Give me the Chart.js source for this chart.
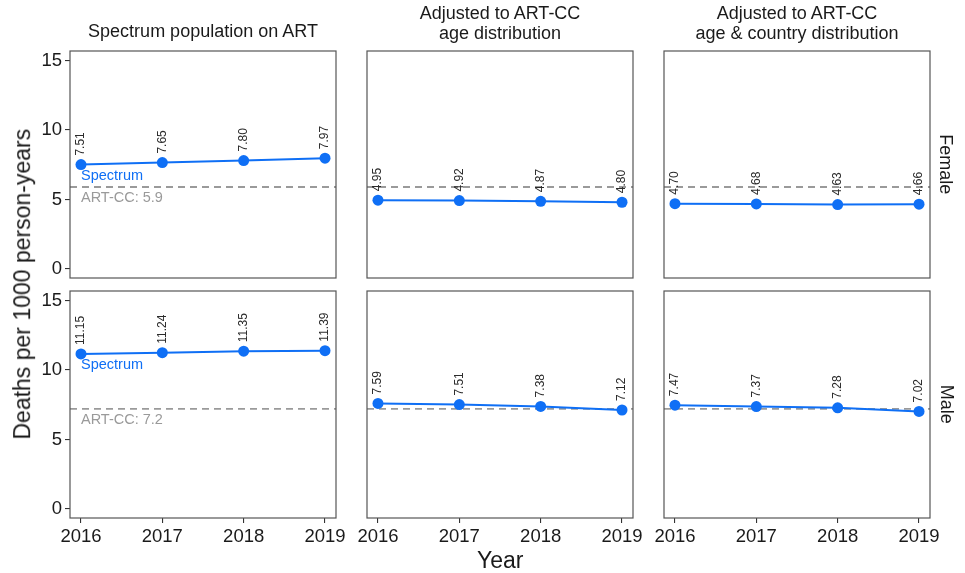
<!DOCTYPE html>
<html>
<head>
<meta charset="utf-8">
<script src="https://cdn.jsdelivr.net/npm/chart.js@4.4.1/dist/chart.umd.min.js"></script>
<style>
  html,body{margin:0;padding:0;background:#fff;}
  #wrap{position:relative;width:965px;height:573px;overflow:hidden;font-family:"Liberation Sans",Arial,sans-serif;color:#1a1a1a;}
  canvas{position:absolute;}
  .t{position:absolute;white-space:nowrap;text-align:center;line-height:19.5px;font-size:18px;color:#1a1a1a;}
  .strip{position:absolute;font-size:18px;color:#1a1a1a;transform-origin:center center;white-space:nowrap;line-height:1.15;}
</style>
</head>
<body>
<div id="wrap"></div>
<script>
// ---- data ----
const years = [2016, 2017, 2018, 2019];
const columnTitles = ["Spectrum population on ART", "Adjusted to ART-CC\nage distribution", "Adjusted to ART-CC\nage & country distribution"];
const rowLabels = ["Female", "Male"];
const femaleSpectrum = [7.51, 7.65, 7.80, 7.97];
const femaleAgeAdj = [4.95, 4.92, 4.87, 4.80];
const femaleAgeCountryAdj = [4.70, 4.68, 4.63, 4.66];
const maleSpectrum = [11.15, 11.24, 11.35, 11.39];
const maleAgeAdj = [7.59, 7.51, 7.38, 7.12];
const maleAgeCountryAdj = [7.47, 7.37, 7.28, 7.02];
const artccRef = [5.9, 7.2];          // Female, Male
const yTicks = [0, 5, 10, 15];
const yLabel = "Deaths per 1000 person-years";
const xLabel = "Year";
const seriesLabel = "Spectrum";
const refLabelPrefix = "ART-CC: ";

const grid = [
  [femaleSpectrum, femaleAgeAdj, femaleAgeCountryAdj],
  [maleSpectrum, maleAgeAdj, maleAgeCountryAdj]
];

// ---- layout ----
const colLeft = [70, 367, 664];
const panelW = 266;
const rowTop = [51, 291];
const panelH = 227;
const padL = 70, padT = 16, padR = 28, padB = 45;
const BLUE = '#0f6ff5';
const GRAY = '#9a9a9a';
const FONT = '"Liberation Sans", Arial, sans-serif';

const wrap = document.getElementById('wrap');

const framePlugin = {
  id: 'frame',
  beforeDatasetsDraw(chart) {
    const o = chart.options.plugins.frame;
    const {ctx, chartArea: a, scales} = chart;
    const y = scales.y.getPixelForValue(o.ref);
    ctx.save();
    ctx.beginPath();
    ctx.rect(a.left, a.top, a.right - a.left, a.bottom - a.top);
    ctx.clip();
    ctx.strokeStyle = GRAY;
    ctx.lineWidth = 1.9;
    ctx.setLineDash([7, 5]);
    ctx.beginPath();
    ctx.moveTo(a.left, y);
    ctx.lineTo(a.right, y);
    ctx.stroke();
    ctx.restore();
    if (o.showLabels) {
      ctx.save();
      ctx.font = '14.5px ' + FONT;
      ctx.textAlign = 'left';
      ctx.textBaseline = 'middle';
      ctx.fillStyle = GRAY;
      const x0 = scales.x.getPixelForValue(years[0]);
      ctx.fillText(refLabelPrefix + o.ref.toFixed(1), x0, scales.y.getPixelForValue(o.ref - 0.82));
      ctx.fillStyle = BLUE;
      ctx.fillText(seriesLabel, x0, scales.y.getPixelForValue(o.first - 0.82));
      ctx.restore();
    }
  },
  afterDatasetsDraw(chart) {
    const {ctx, chartArea: a} = chart;
    const meta = chart.getDatasetMeta(0);
    const data = chart.data.datasets[0].data;
    ctx.save();
    ctx.font = '12px ' + FONT;
    ctx.fillStyle = '#2b2b2b';
    ctx.textAlign = 'left';
    ctx.textBaseline = 'middle';
    meta.data.forEach((pt, i) => {
      ctx.save();
      ctx.translate(pt.x, pt.y - 9);
      ctx.rotate(-Math.PI / 2);
      ctx.fillText(data[i].y.toFixed(2), 0, 0);
      ctx.restore();
    });
    ctx.restore();
    ctx.save();
    ctx.strokeStyle = '#555';
    ctx.lineWidth = 1.2;
    ctx.strokeRect(a.left, a.top, a.right - a.left, a.bottom - a.top);
    ctx.restore();
  }
};

for (let r = 0; r < 2; r++) {
  for (let c = 0; c < 3; c++) {
    const cv = document.createElement('canvas');
    const w = panelW + padL + padR, h = panelH + padT + padB;
    cv.width = w; cv.height = h;
    cv.style.left = (colLeft[c] - padL) + 'px';
    cv.style.top = (rowTop[r] - padT) + 'px';
    cv.style.width = w + 'px';
    cv.style.height = h + 'px';
    wrap.appendChild(cv);
    const vals = grid[r][c];
    const showY = c === 0, showX = r === 1;
    new Chart(cv, {
      type: 'line',
      data: {
        datasets: [{
          data: years.map((yr, i) => ({x: yr, y: vals[i]})),
          borderColor: BLUE,
          backgroundColor: BLUE,
          borderWidth: 2,
          pointRadius: 5.5,
          pointBorderWidth: 0,
          pointBackgroundColor: BLUE,
          tension: 0,
          clip: false
        }]
      },
      options: {
        responsive: false,
        animation: false,
        devicePixelRatio: 1,
        layout: {padding: {left: 0, top: padT, right: padR, bottom: 0}},
        plugins: {
          legend: {display: false},
          tooltip: {enabled: false},
          frame: {ref: artccRef[r], showLabels: c === 0, first: vals[0]}
        },
        scales: {
          x: {
            type: 'linear',
            min: 2015.865, max: 2019.135,
            afterBuildTicks: s => { s.ticks = years.map(v => ({value: v})); },
            afterFit: s => { s.height = padB; },
            grid: {display: showX, drawOnChartArea: false, drawTicks: true, tickLength: 5, color: '#333', lineWidth: 1.1},
            border: {display: false},
            ticks: {display: showX, color: '#1a1a1a', font: {family: FONT, size: 18.5}, padding: 3, maxRotation: 0, callback: v => String(v)}
          },
          y: {
            min: -0.65, max: 15.68,
            afterBuildTicks: s => { s.ticks = yTicks.map(v => ({value: v})); },
            afterFit: s => { s.width = padL; },
            grid: {display: showY, drawOnChartArea: false, drawTicks: true, tickLength: 5, color: '#333', lineWidth: 1.1},
            border: {display: false},
            ticks: {display: showY, color: '#1a1a1a', font: {family: FONT, size: 18.5}, padding: 3, callback: v => String(v)}
          }
        }
      },
      plugins: [framePlugin]
    });
  }
}

// column titles
columnTitles.forEach((t, c) => {
  const d = document.createElement('div');
  d.className = 't';
  const lines = t.split('\n');
  d.innerHTML = lines.map(s => s.replace(/&/g, '&amp;')).join('<br>');
  d.style.left = colLeft[c] + 'px';
  d.style.width = panelW + 'px';
  d.style.top = (lines.length === 1 ? 22 : 4) + 'px';
  wrap.appendChild(d);
});

// strip labels
rowLabels.forEach((t, r) => {
  const d = document.createElement('div');
  d.className = 'strip';
  d.textContent = t;
  wrap.appendChild(d);
  const bw = d.offsetWidth, bh = d.offsetHeight;
  d.style.left = (946 - bw / 2) + 'px';
  d.style.top = (rowTop[r] + panelH / 2 - bh / 2) + 'px';
  d.style.transform = 'rotate(90deg)';
});

// axis titles
const yt = document.createElement('div');
yt.className = 'strip';
yt.style.fontSize = '23px';
yt.textContent = yLabel;
wrap.appendChild(yt);
{
  const bw = yt.offsetWidth, bh = yt.offsetHeight;
  yt.style.left = (22 - bw / 2) + 'px';
  yt.style.top = (284 - bh / 2) + 'px';
  yt.style.transform = 'rotate(-90deg)';
}
const xt = document.createElement('div');
xt.className = 'strip';
xt.style.fontSize = '23px';
xt.textContent = xLabel;
wrap.appendChild(xt);
{
  const bw = xt.offsetWidth, bh = xt.offsetHeight;
  xt.style.left = (500 - bw / 2) + 'px';
  xt.style.top = (560 - bh / 2) + 'px';
}
</script>
</body>
</html>
